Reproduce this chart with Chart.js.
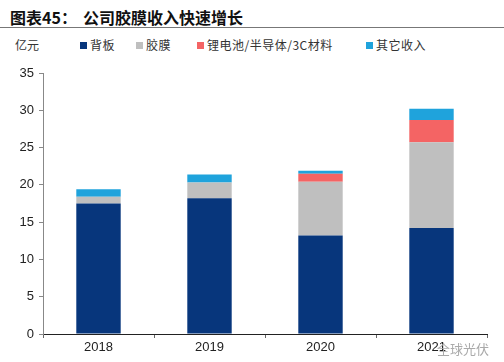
<!DOCTYPE html>
<html>
<head>
<meta charset="utf-8">
<script src="https://cdn.jsdelivr.net/npm/chart.js@4/dist/chart.umd.min.js"></script>
<style>
  body { margin:0; background:#fff; font-family:"Noto Sans CJK SC", "Liberation Sans", sans-serif; }
  #wrap { position:relative; width:504px; height:362px; overflow:hidden; }
  #title { position:absolute; left:10px; top:5px; font-size:16px; font-weight:bold; color:#111; }
  #title span { position:absolute; left:73px; white-space:nowrap; }
  #rule { position:absolute; left:0; top:27px; width:504px; height:1px; background:#777; }
  #unit { position:absolute; left:15px; top:36px; font-size:12px; color:#333; }
  .leg { position:absolute; top:36px; font-size:12px; color:#333; white-space:nowrap; letter-spacing:0.5px; }
  .leg i { display:inline-block; width:7px; height:7px; margin-right:3px; vertical-align:1px; }
  #wm { position:absolute; left:437px; top:339px; font-size:13px; color:#aaa; }
  canvas { position:absolute; left:0; top:0; }
</style>
</head>
<body>
<div id="wrap">
  <div id="title">图表45：<span>公司胶膜收入快速增长</span></div>
  <div id="rule"></div>
  <div id="unit">亿元</div>
  <div id="legend"></div>
  <canvas id="myChart" width="504" height="362"></canvas>
  <div id="wm">全球光伏</div>
</div>
<script>
var years = ['2018', '2019', '2020', '2021'];
var backsheet = [17.5, 18.2, 13.2, 14.2];
var film = [0.9, 2.1, 7.2, 11.5];
var battery = [0, 0, 1.1, 3.0];
var other = [1.0, 1.1, 0.4, 1.5];
var seriesNames = ['背板', '胶膜', '锂电池/半导体/3C材料', '其它收入'];
var seriesColors = ['#07367c', '#bfbfbf', '#f46464', '#1fa3dc'];
var yTicks = [0, 5, 10, 15, 20, 25, 30, 35];

// legend in html
var legX = [80, 136, 197, 366];
var legend = document.getElementById('legend');
for (let i = 0; i < seriesNames.length; i++) {
    var d = document.createElement('div');
    d.className = 'leg';
    d.style.left = legX[i] + 'px';
    d.innerHTML = '<i style="background:' + seriesColors[i] + '"></i>' + seriesNames[i];
    legend.appendChild(d);
}

var allData = [backsheet, film, battery, other];
var datasets = [];
for (let i = 0; i < allData.length; i++) {
    datasets.push({
        label: seriesNames[i],
        data: allData[i],
        backgroundColor: seriesColors[i],
        borderWidth: 0,
        categoryPercentage: 1,
        barPercentage: 0.4
    });
}

var ctx = document.getElementById('myChart');
var myChart = new Chart(ctx, {
    type: 'bar',
    data: { labels: years, datasets: datasets },
    options: {
        responsive: false,
        animation: false,
        layout: { padding: { top: 73, right: 17, left: 0, bottom: 0 } },
        plugins: { legend: { display: false }, tooltip: { enabled: false } },
        scales: {
            x: {
                stacked: true,
                grid: { drawOnChartArea: false, drawTicks: true, tickLength: 4, color: '#666' },
                border: { color: '#222', width: 1 },
                ticks: { color: '#222', font: { size: 13, family: 'Liberation Sans' }, padding: 2 },
                afterFit: function(s) { s.height = 28; }
            },
            y: {
                stacked: true,
                min: 0,
                max: 35,
                afterBuildTicks: function(s) { s.ticks = yTicks.map(function(v) { return { value: v }; }); },
                grid: { drawOnChartArea: false, drawTicks: true, tickLength: 4, color: '#888' },
                border: { color: '#888', width: 1 },
                ticks: { color: '#222', font: { size: 13, family: 'Liberation Sans' }, padding: 5 },
                afterFit: function(s) { s.width = 43; }
            }
        }
    }
});
</script>
</body>
</html>
